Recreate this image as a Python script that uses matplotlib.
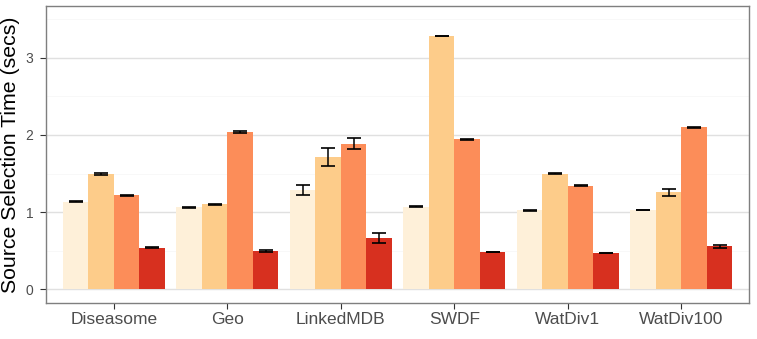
import numpy as np
import matplotlib
matplotlib.use("Agg")
import matplotlib.pyplot as plt
from matplotlib.ticker import MultipleLocator

plt.rcParams['font.family'] = ['Liberation Sans', 'DejaVu Sans']

categories = ["Diseasome", "Geo", "LinkedMDB", "SWDF", "WatDiv1", "WatDiv100"]
series1 = [1.135, 1.066, 1.286, 1.070, 1.023, 1.027]
error1 = [0.010, 0.007, 0.070, 0.005, 0.005, 0.005]
series2 = [1.493, 1.100, 1.718, 3.284, 1.500, 1.256]
error2 = [0.008, 0.007, 0.115, 0.005, 0.005, 0.050]
series3 = [1.221, 2.035, 1.885, 1.942, 1.342, 2.098]
error3 = [0.007, 0.015, 0.070, 0.006, 0.006, 0.006]
series4 = [0.540, 0.500, 0.660, 0.483, 0.470, 0.555]
error4 = [0.008, 0.012, 0.065, 0.006, 0.006, 0.025]

values = [series1, series2, series3, series4]
errors = [error1, error2, error3, error4]
colors = ["#FEF0D9", "#FDCC8A", "#FC8D59", "#D7301F"]

fig = plt.figure(figsize=(7.57, 3.39), dpi=100)
ax = fig.add_axes([0.0604, 0.107, 0.9296, 0.875])

x = np.arange(1, len(categories) + 1)
n = len(values)
dodge = 0.9
w = dodge / n
for i, (v, e, c) in enumerate(zip(values, errors, colors)):
    pos = x - dodge / 2 + w * (i + 0.5)
    ax.bar(pos, v, width=w, color=c, edgecolor='none', zorder=2)
    ax.errorbar(pos, v, yerr=e, fmt='none', ecolor='black', elinewidth=1.1,
                capsize=5, capthick=1.2, zorder=3)

ax.set_xlim(0.4, len(categories) + 0.6)
ax.set_ylim(-0.174, 3.67)
ax.set_xticks(x)
ax.set_xticklabels(categories)
ax.yaxis.set_major_locator(MultipleLocator(1))
ax.yaxis.set_minor_locator(MultipleLocator(0.5))
ax.grid(axis='y', which='major', color='#E0E0E0', linewidth=1.0, zorder=0)
ax.grid(axis='y', which='minor', color='#F6F6F6', linewidth=0.5, zorder=0)
ax.set_axisbelow(True)
ax.tick_params(axis='y', which='minor', length=0)
ax.tick_params(axis='both', which='major', length=4, width=0.8, color='#333333',
               labelcolor='#4D4D4D')
ax.tick_params(axis='x', labelsize=12.5, pad=3)
ax.tick_params(axis='y', labelsize=10, pad=5)
for s in ax.spines.values():
    s.set_color('#7F7F7F')
    s.set_linewidth(1.0)
ax.set_ylabel("Source Selection Time (secs)", fontsize=15.3, color='black', labelpad=4)

fig.savefig("out.png", dpi=100)
